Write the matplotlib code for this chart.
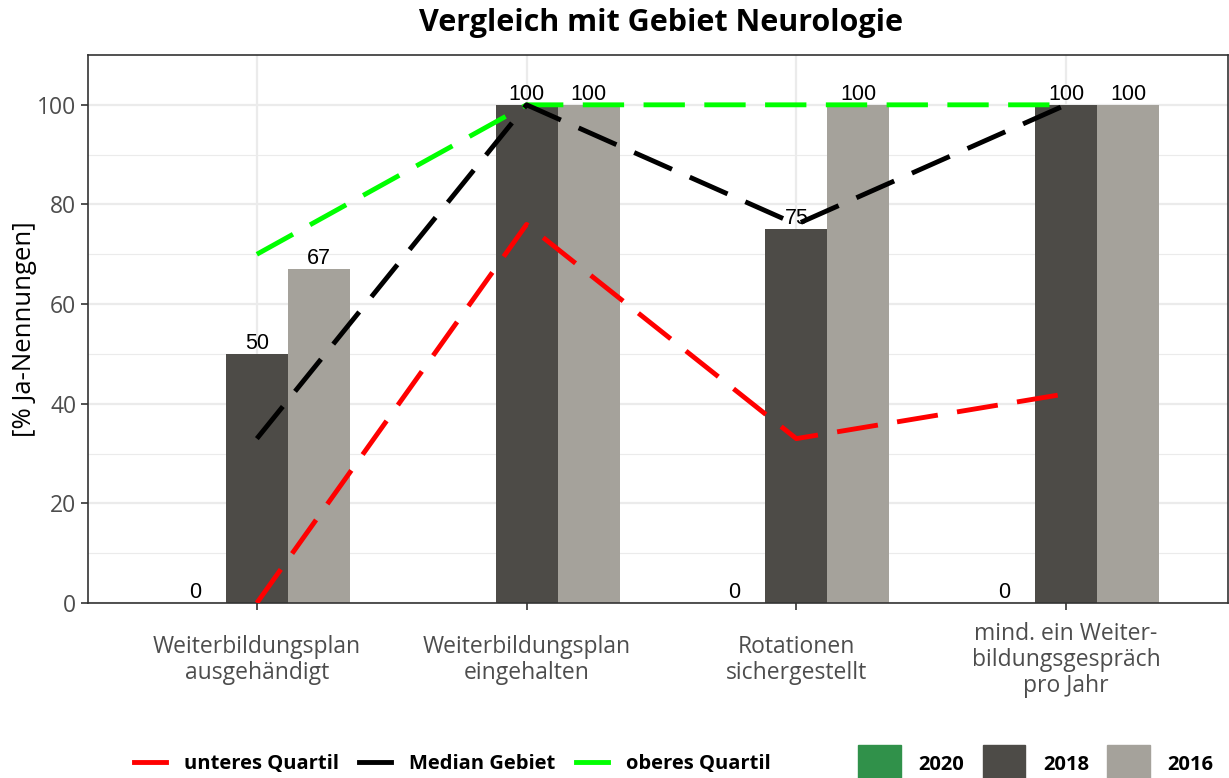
import numpy as np
import matplotlib
matplotlib.use("Agg")
import matplotlib.pyplot as plt
from matplotlib.lines import Line2D
from matplotlib.patches import Patch

# data
categories = ["Weiterbildungsplan\nausgehändigt", "Weiterbildungsplan\neingehalten",
              "Rotationen\nsichergestellt", "mind. ein Weiter-\nbildungsgespräch\npro Jahr"]
years = ["2020", "2018", "2016"]
val_2020 = [0, np.nan, 0, 0]
val_2018 = [50, 100, 75, 100]
val_2016 = [67, 100, 100, 100]
q_lower = [0, 76, 33, 42]
q_median = [33, 100, 76, 100]
q_upper = [70, 100, 100, 100]

bar_colors = ["#30914A", "#4D4B47", "#A5A29B"]
tick_font = "Open Sans"

fig = plt.figure(figsize=(12.29, 7.78), dpi=100)
ax = fig.add_axes([0.0716, 0.2249, 0.9275, 0.7044])

x = np.arange(1, len(categories) + 1)
w = 0.23
for i, (vals, col) in enumerate(zip([val_2020, val_2018, val_2016], bar_colors)):
    pos = x + (i - 1) * w
    v = np.array(vals, dtype=float)
    ax.bar(pos, np.nan_to_num(v), width=w, color=col, zorder=2)
    for p, val in zip(pos, v):
        if not np.isnan(val):
            ax.text(p, val, f"{val:.0f}", ha="center", va="bottom",
                    fontsize=15.5, family="Liberation Sans", color="black", zorder=5)

dash = (8.5, 4)
ax.plot(x, q_lower, color="#FF0000", lw=3.5, dashes=dash, dash_capstyle="butt", zorder=3)
ax.plot(x, q_upper, color="#00FF00", lw=3.5, dashes=dash, dash_capstyle="butt", zorder=3)
ax.plot(x, q_median, color="black", lw=3.5, dashes=dash, dash_capstyle="butt", zorder=3)

ax.set_xlim(0.374, 4.6)
ax.set_ylim(0, 110)
ax.set_xticks(x)
ax.set_xticklabels(categories, fontsize=16.5, family=tick_font, color="#4D4D4D",
                   linespacing=1.1, va="center")
ax.set_yticks([0, 20, 40, 60, 80, 100])
ax.set_yticks([10, 30, 50, 70, 90], minor=True)
ax.tick_params(axis="y", which="minor", length=0)
ax.tick_params(axis="both", which="major", length=5, width=1.2, color="#333333",
               labelcolor="#4D4D4D")
ax.tick_params(axis="y", labelsize=16.5)
for lab in ax.get_yticklabels():
    lab.set_family(tick_font)
ax.tick_params(axis="x", pad=36)
ax.grid(which="major", color="#EBEBEB", lw=1.6, zorder=0)
ax.grid(which="minor", axis="y", color="#EBEBEB", lw=0.8, zorder=0)
ax.set_axisbelow(True)
for s in ax.spines.values():
    s.set_color("#333333")
    s.set_linewidth(1.2)

fig.text(25 / 1229, 0.577, "[% Ja-Nennungen]", rotation=90, ha="center", va="center",
         fontsize=18.5, family=tick_font, color="black")
fig.suptitle("Vergleich mit Gebiet Neurologie", fontsize=22, fontweight="bold",
             family=tick_font, y=0.99, x=0.538)

legend_font = {"family": tick_font, "weight": "bold", "size": 14.5}
line_handles = [Line2D([], [], color=c, lw=3.5) for c in ["#FF0000", "black", "#00FF00"]]
leg1 = fig.legend(line_handles, ["unteres Quartil", "Median Gebiet", "oberes Quartil"],
                  loc="center", bbox_to_anchor=(0.368, 0.018), ncol=3, frameon=False,
                  prop=legend_font, handlelength=1.6, columnspacing=1.0, handletextpad=0.9)
patch_handles = [Patch(color=c) for c in bar_colors]
leg2 = fig.legend(patch_handles, years, loc="center", bbox_to_anchor=(0.843, 0.018), ncol=3,
                  frameon=False, prop=legend_font,
                  handlelength=2.1, handleheight=2.6, columnspacing=0.9, handletextpad=0.9)

fig.savefig("out.png", dpi=100)
